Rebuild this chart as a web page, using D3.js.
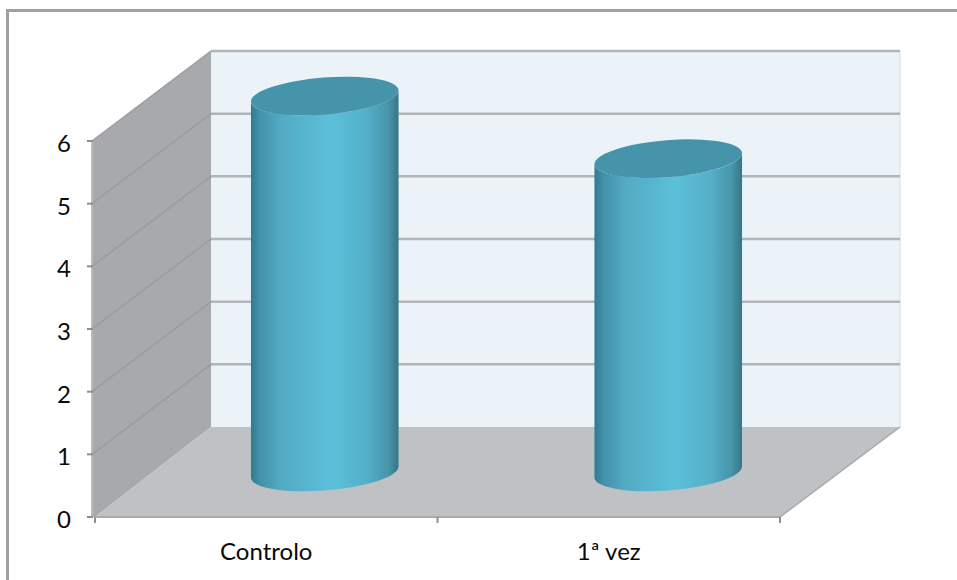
<!DOCTYPE html>
<html>
<head>
<meta charset="utf-8">
<script src="https://cdn.jsdelivr.net/npm/d3@7"></script>
<style>
html, body { margin: 0; padding: 0; background: #fff; }
svg { display: block; }
text { font-family: Lato, "Open Sans", sans-serif; font-size: 24px; fill: #0a0a0a; }
</style>
</head>
<body>
<div id="chart"></div>
<script>
var categories = ["Controlo", "1ª vez"];
var values = [6, 5];
var yTicks = [0, 1, 2, 3, 4, 5, 6];

var width = 957, height = 580;
var depthY = -90;

var x = d3.scaleBand().domain(categories).range([95, 780]);
var y = d3.scaleLinear().domain([0, 6]).range([517, 141]);
// the back of the box is a little wider than the front
var depthX = d3.scaleLinear().domain(x.range()).range([116, 120]);

// move a point from the front of the box towards the back wall
function project(px, py, depth) {
    return [px + depthX(px) * depth, py + depthY * depth];
}
function poly(points) {
    return "M" + points.join("L") + "Z";
}

var svg = d3.select("#chart").append("svg")
    .attr("width", width)
    .attr("height", height);

var defs = svg.append("defs");
var grad = defs.append("linearGradient").attr("id", "cyl");
[[0, "#2f7b91"], [0.06, "#4191a9"], [0.2, "#52a9c2"], [0.55, "#5cc0da"],
 [0.78, "#54b0c9"], [0.93, "#4695aa"], [1, "#367685"]].forEach(function(s) {
    grad.append("stop").attr("offset", s[0]).attr("stop-color", s[1]);
});
defs.append("filter").attr("id", "soft")
    .append("feGaussianBlur").attr("stdDeviation", 0.7);

// frame, only top and left are visible
svg.append("path")
    .attr("d", "M" + width + ",10.5L7.5,10.5L7.5," + height)
    .attr("fill", "none")
    .attr("stroke", "#a0a0a0")
    .attr("stroke-width", 3);

var g = svg.append("g").attr("filter", "url(#soft)");
var x0 = x.range()[0], x1 = x.range()[1];
var backLeft = project(x0, 0, 1)[0], backRight = project(x1, 0, 1)[0];

// back wall
g.append("path")
    .attr("d", poly([[backLeft, y(6) + depthY], [backRight, y(6) + depthY], [backRight, y(0) + depthY], [backLeft, y(0) + depthY]]))
    .attr("fill", "#ebf2f8");
g.append("line")
    .attr("x1", backRight).attr("x2", backRight)
    .attr("y1", y(6) + depthY).attr("y2", y(0) + depthY)
    .attr("stroke", "#e2e4e6").attr("stroke-width", 1.5);

// side wall
g.append("path")
    .attr("d", poly([[x0 - 3, y(6)], project(x0, y(6), 1), project(x0, y(0), 1), [x0, y(0)], [x0 - 3, y(0)]]))
    .attr("fill", "#a7a9ac");
g.append("line")
    .attr("x1", x0 - 3).attr("x2", x0 - 3)
    .attr("y1", y(6)).attr("y2", y(0))
    .attr("stroke", "#b9babb").attr("stroke-width", 2);

// floor
g.append("path")
    .attr("d", poly([[x0, y(0)], [x1, y(0)], project(x1, y(0), 1), project(x0, y(0), 1)]))
    .attr("fill", "#bec2c5");

// gridlines
g.selectAll(".grid-back").data(yTicks.slice(1)).enter().append("line")
    .attr("x1", backLeft).attr("x2", backRight)
    .attr("y1", function(d) { return y(d) + depthY; })
    .attr("y2", function(d) { return y(d) + depthY; })
    .attr("stroke", "#b3b4b5").attr("stroke-width", 2.5);
g.selectAll(".grid-side").data(yTicks.slice(1)).enter().append("line")
    .attr("x1", x0 - 3).attr("x2", backLeft)
    .attr("y1", function(d) { return y(d); })
    .attr("y2", function(d) { return y(d) + depthY; })
    .attr("stroke", "#9b9c9e").attr("stroke-width", 1.5);

// edges of the box base
g.append("line")
    .attr("x1", x0).attr("x2", x1).attr("y1", y(0)).attr("y2", y(0))
    .attr("stroke", "#a9a9a9").attr("stroke-width", 2);
g.append("line")
    .attr("x1", x1).attr("y1", y(0))
    .attr("x2", backRight).attr("y2", y(0) + depthY)
    .attr("stroke", "#a9a9a9").attr("stroke-width", 1.5);

// axis ticks and labels
var axis = svg.append("g").attr("filter", "url(#soft)");
axis.selectAll(".ytick").data(yTicks).enter().append("line")
    .attr("x1", x0 - 8).attr("x2", x0 - 2)
    .attr("y1", function(d) { return y(d); })
    .attr("y2", function(d) { return y(d); })
    .attr("stroke", "#8e8e8e").attr("stroke-width", 2);
axis.selectAll(".xtick").data(x.domain().map(function(d) { return x(d); }).concat(x1)).enter().append("line")
    .attr("x1", function(d) { return d; })
    .attr("x2", function(d) { return d; })
    .attr("y1", y(0)).attr("y2", y(0) + 6)
    .attr("stroke", "#8e8e8e").attr("stroke-width", 2);

svg.selectAll(".ylabel").data(yTicks).enter().append("text")
    .attr("x", 64)
    .attr("y", function(d) { return y(d) + 11; })
    .attr("text-anchor", "middle")
    .text(function(d) { return d; });
svg.selectAll(".xlabel").data(categories).enter().append("text")
    .attr("x", function(d) { return x(d) + x.bandwidth() / 2; })
    .attr("y", 560)
    .attr("text-anchor", "middle")
    .text(function(d) { return d; });

// cylinders stand half way into the box
var rx = 74, ry = 18.5, tilt = -4.5;
var rad = tilt * Math.PI / 180;
var hx = Math.sqrt(rx * rx * Math.cos(rad) * Math.cos(rad) + ry * ry * Math.sin(rad) * Math.sin(rad));
var edgeY = (rx * rx - ry * ry) * Math.sin(rad) * Math.cos(rad) / hx;

var bars = g.selectAll(".bar").data(values).enter().append("g");

bars.append("path")
    .attr("d", function(d, i) {
        var top = project(x(categories[i]) + x.bandwidth() / 2, y(d), 0.5);
        var base = project(x(categories[i]) + x.bandwidth() / 2, y(0), 0.5);
        var arc = "A" + rx + " " + ry + " " + tilt + " 0 ";
        return "M" + (top[0] - hx) + "," + (top[1] - edgeY) +
            "L" + (base[0] - hx) + "," + (base[1] - edgeY) +
            arc + "0 " + (base[0] + hx) + "," + (base[1] + edgeY) +
            "L" + (top[0] + hx) + "," + (top[1] + edgeY) +
            arc + "1 " + (top[0] - hx) + "," + (top[1] - edgeY) + "Z";
    })
    .attr("fill", "url(#cyl)");

bars.append("ellipse")
    .attr("rx", rx)
    .attr("ry", ry)
    .attr("transform", function(d, i) {
        var top = project(x(categories[i]) + x.bandwidth() / 2, y(d), 0.5);
        return "translate(" + top + ") rotate(" + tilt + ")";
    })
    .attr("fill", "#4494aa");
</script>
</body>
</html>
